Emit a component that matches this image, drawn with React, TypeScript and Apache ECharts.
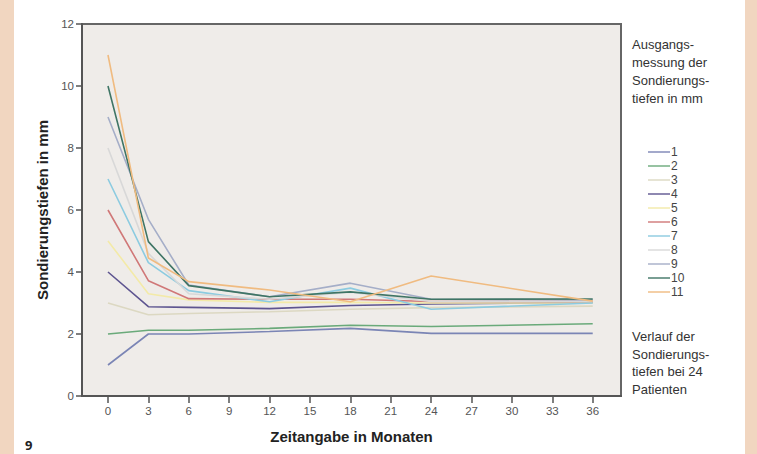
import React, { useEffect, useRef } from "react";
import * as echarts from "echarts";

const months = [0, 3, 6, 12, 18, 24, 36];
const seriesNames = ["1", "2", "3", "4", "5", "6", "7", "8", "9", "10", "11"];
const s1 = [1.0, 2.0, 2.0, 2.08, 2.18, 2.02, 2.02];
const s2 = [2.0, 2.12, 2.12, 2.18, 2.28, 2.24, 2.33];
const s3 = [3.0, 2.62, 2.66, 2.72, 2.8, 2.85, 2.9];
const s4 = [4.0, 2.88, 2.86, 2.82, 2.92, 2.97, 3.02];
const s5 = [5.0, 3.3, 3.1, 3.02, 3.02, 3.0, 3.0];
const s6 = [6.0, 3.72, 3.14, 3.12, 3.12, 3.05, 3.05];
const s7 = [7.0, 4.3, 3.4, 3.04, 3.48, 2.8, 3.0];
const s8 = [8.0, 4.6, 3.3, 3.12, 3.35, 3.05, 3.05];
const s9 = [9.0, 5.7, 3.58, 3.2, 3.64, 3.12, 3.1];
const s10 = [10.0, 4.98, 3.56, 3.2, 3.36, 3.12, 3.13];
const s11 = [11.0, 4.45, 3.69, 3.42, 3.04, 3.87, 3.06];
const allValues = [s1, s2, s3, s4, s5, s6, s7, s8, s9, s10, s11];
const xTicks = [0, 3, 6, 9, 12, 15, 18, 21, 24, 27, 30, 33, 36];
const colors = [
  "#7b85b5", "#6aaa7a", "#dcd8c2", "#5e5590", "#f3eaa8", "#d07878",
  "#8ccbe0", "#d8d8d8", "#a5aec8", "#3f7565", "#f0bb80",
];

export default function App() {
  const ref = useRef<HTMLDivElement>(null);
  useEffect(() => {
    if (!ref.current) return;
    const chart = echarts.init(ref.current, null, { renderer: "svg" });
    const font = "Liberation Sans, Arial, sans-serif";
    chart.setOption({
      animation: false,
      backgroundColor: "#ffffff",
      color: colors,
      textStyle: { fontFamily: font },
      grid: {
        left: 82, top: 24, right: 136, bottom: 58,
        show: true, backgroundColor: "#efece9", borderColor: "#666", borderWidth: 2,
      },
      xAxis: {
        type: "value", min: -1.93, max: 38.1,
        axisLine: { onZero: false, lineStyle: { color: "#555", width: 2 } },
        axisTick: { show: true, customValues: xTicks, length: 7, lineStyle: { color: "#555", width: 1.5 } },
        axisLabel: { customValues: xTicks, color: "#555", fontSize: 11.5, margin: 9 },
        splitLine: { show: false },
        name: "Zeitangabe in Monaten", nameLocation: "middle", nameGap: 33,
        nameTextStyle: { fontSize: 15, fontWeight: "bold", color: "#222" },
      },
      yAxis: {
        type: "value", min: 0, max: 12, interval: 2,
        axisLine: { show: true, onZero: false, lineStyle: { color: "#555", width: 2 } },
        axisTick: { show: true, length: 6, lineStyle: { color: "#555", width: 1.5 } },
        axisLabel: { color: "#555", fontSize: 11.5, margin: 8 },
        splitLine: { show: false },
        name: "Sondierungstiefen in mm", nameLocation: "middle", nameGap: 28,
        nameTextStyle: { fontSize: 15, fontWeight: "bold", color: "#222" },
      },
      legend: {
        orient: "vertical", left: 643, top: 141,
        itemWidth: 22, itemHeight: 12, itemGap: 2,
        data: seriesNames,
        textStyle: { fontSize: 12, color: "#444", padding: [0, 0, 0, -4] },
        icon: "path://M0,5.3 L22,5.3 L22,6.7 L0,6.7 Z",
      },
      series: allValues.map((vals, i) => ({
        name: seriesNames[i],
        type: "line",
        symbol: "none",
        data: vals.map((v, j) => [months[j], v]),
        lineStyle: { width: 1.6, color: colors[i] },
        itemStyle: { color: colors[i] },
      })),
      graphic: [
        { type: "rect", left: 0, top: 0, shape: { width: 14, height: 454 }, style: { fill: "#f1d6c0" } },
        { type: "rect", left: 745, top: 0, shape: { width: 12, height: 454 }, style: { fill: "#f1d6c0" } },
        {
          type: "text", left: 632, top: 35,
          style: { text: "Ausgangs-\nmessung der\nSondierungs-\ntiefen in mm", fontSize: 13, lineHeight: 18, fill: "#333", fontFamily: font },
        },
        {
          type: "text", left: 632, top: 328,
          style: { text: "Verlauf der\nSondierungs-\ntiefen bei 24\nPatienten", fontSize: 13, lineHeight: 17.5, fill: "#333", fontFamily: font },
        },
        {
          type: "text", left: 25, top: 438,
          style: { text: "9", fontSize: 13, fontWeight: "bold", fill: "#222", fontFamily: "Open Sans, sans-serif" },
        },
      ],
    });
    return () => chart.dispose();
  }, []);
  return <div ref={ref} style={{ position: "fixed", left: 0, top: 0, width: 757, height: 454 }} />;
}
